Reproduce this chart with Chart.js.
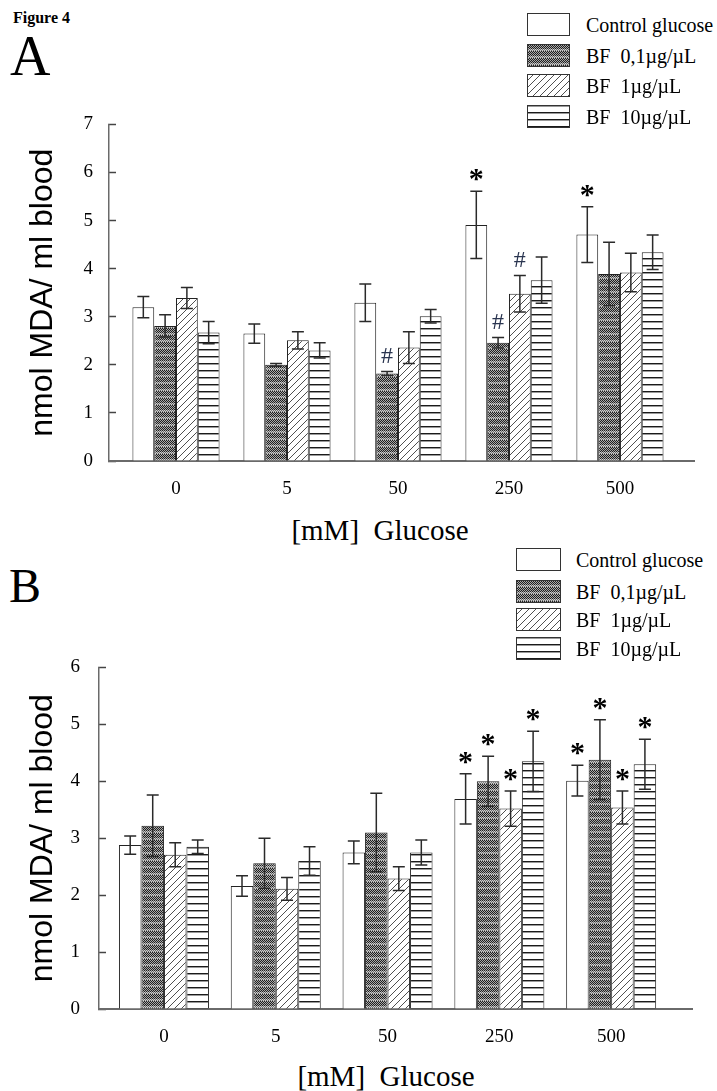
<!DOCTYPE html>
<html>
<head>
<meta charset="utf-8">
<script src="https://cdn.jsdelivr.net/npm/chart.js@4.4.1/dist/chart.umd.min.js"></script>
<style>
  body { margin: 0; width: 717px; height: 1091px; background: #fff; position: relative; overflow: hidden;
         font-family: 'Liberation Serif', serif; color: #000; }
  .abs { position: absolute; white-space: pre; line-height: 1; }
  .fig { left: 13px; top: 10px; font-size: 16px; font-weight: bold; }
  .xtitle { font-size: 29px; transform: translateX(-50%); }
  .leg { font-size: 20px; }
  canvas { position: absolute; left: 0; }
</style>
</head>
<body>
<div class="abs fig">Figure 4</div>
<div class="abs" style="left:10px;top:28px;font-size:56px;">A</div>
<div class="abs" style="left:9px;top:562px;font-size:48px;">B</div>
<div class="abs xtitle" style="left:380px;top:516px;">[mM]  Glucose</div>
<div class="abs xtitle" style="left:386px;top:1062px;">[mM]  Glucose</div>
<canvas id="chartA" width="717" height="420" style="top:90px"></canvas>
<canvas id="chartB" width="717" height="420" style="top:630px"></canvas>
<script>
const glucose = ['0', '5', '50', '250', '500'];
const seriesNames = ['Control glucose', 'BF  0,1µg/µL', 'BF  1µg/µL', 'BF  10µg/µL'];

// painel A
const ctrlA = [3.20, 2.65, 3.29, 4.91, 4.71];
const bf01A = [2.81, 2.00, 1.82, 2.46, 3.89];
const bf1A = [3.39, 2.51, 2.36, 3.48, 3.92];
const bf10A = [2.67, 2.30, 3.01, 3.76, 4.34];
const ctrlErrA = [0.22, 0.20, 0.39, 0.70, 0.58];
const bf01ErrA = [0.23, 0.03, 0.04, 0.11, 0.66];
const bf1ErrA = [0.22, 0.18, 0.33, 0.38, 0.40];
const bf10ErrA = [0.23, 0.16, 0.14, 0.48, 0.36];
const ctrlMarksA = ['', '', '', '*', '*'];
const bf01MarksA = ['', '', '#', '#', ''];
const bf1MarksA = ['', '', '', '#', ''];
const bf10MarksA = ['', '', '', '', ''];

// painel B
const ctrlB = [2.88, 2.16, 2.75, 3.69, 4.01];
const bf01B = [3.22, 2.56, 3.10, 4.00, 4.38];
const bf1B = [2.71, 2.11, 2.29, 3.52, 3.54];
const bf10B = [2.85, 2.60, 2.75, 4.35, 4.30];
const ctrlErrB = [0.16, 0.18, 0.20, 0.44, 0.27];
const bf01ErrB = [0.54, 0.44, 0.69, 0.44, 0.70];
const bf1ErrB = [0.21, 0.20, 0.21, 0.31, 0.29];
const bf10ErrB = [0.12, 0.25, 0.22, 0.53, 0.44];
const ctrlMarksB = ['', '', '', '*', '*'];
const bf01MarksB = ['', '', '', '*', '*'];
const bf1MarksB = ['', '', '', '*', '*'];
const bf10MarksB = ['', '', '', '*', '*'];

// texturas das barras
function makePattern(kind) {
  const c = document.createElement('canvas');
  const g = c.getContext('2d');
  if (kind === 'dots') {
    c.width = 2; c.height = 7;
    for (let y = 0; y < 7; y++) {
      for (let x = 0; x < 2; x++) {
        const odd = (x + y) % 2 === 1;
        g.fillStyle = y >= 5 ? (odd ? '#d0d0d0' : '#6a6a6a') : (odd ? '#a8a8a8' : '#1e1e1e');
        g.fillRect(x, y, 1, 1);
      }
    }
  } else if (kind === 'diag') {
    c.width = 7; c.height = 7;
    g.fillStyle = '#fff'; g.fillRect(0, 0, 7, 7);
    g.fillStyle = '#505050';
    for (let i = 0; i < 7; i++) g.fillRect(i, 6 - i, 1, 1);
  } else {
    c.width = 4; c.height = 7;
    g.fillStyle = '#fff'; g.fillRect(0, 0, 4, 7);
    g.fillStyle = '#1a1a1a'; g.fillRect(0, 0, 4, 1);
    g.fillStyle = '#9a9a9a'; g.fillRect(0, 1, 4, 1);
  }
  return g.createPattern(c, 'repeat');
}
const fills = ['#ffffff', makePattern('dots'), makePattern('diag'), makePattern('lines')];

// barras de erro e marcas (* e #)
const errorBars = {
  id: 'errorBars',
  afterDatasetsDraw(chart) {
    const ctx = chart.ctx;
    const yScale = chart.scales.y;
    chart.data.datasets.forEach((ds, i) => {
      const meta = chart.getDatasetMeta(i);
      meta.data.forEach((bar, j) => {
        const v = ds.data[j].y;
        const top = yScale.getPixelForValue(v + ds.err[j]);
        const bot = yScale.getPixelForValue(v - ds.err[j]);
        ctx.save();
        ctx.strokeStyle = '#2a2a2a';
        ctx.lineWidth = 1.5;
        ctx.beginPath();
        ctx.moveTo(bar.x, top); ctx.lineTo(bar.x, bot);
        ctx.moveTo(bar.x - 6, top); ctx.lineTo(bar.x + 6, top);
        ctx.moveTo(bar.x - 6, bot); ctx.lineTo(bar.x + 6, bot);
        ctx.stroke();
        const mark = ds.marks[j];
        if (mark) {
          ctx.font = mark === '*' ? 'bold 30px "Liberation Serif"' : '24px "Liberation Serif"';
          ctx.fillStyle = mark === '*' ? '#000' : '#2a3550';
          ctx.textAlign = 'center';
          ctx.textBaseline = 'alphabetic';
          const m = ctx.measureText(mark);
          const cy = top - 16;
          ctx.fillText(mark, bar.x, cy + (m.actualBoundingBoxAscent - m.actualBoundingBoxDescent) / 2);
        }
        ctx.restore();
      });
    });
  }
};

function buildDatasets(values, errors, marks) {
  return values.map((vals, k) => ({
    label: seriesNames[k],
    data: vals.map((v, i) => ({ x: i, y: v })),
    err: errors[k],
    marks: marks[k],
    backgroundColor: fills[k],
    borderColor: '#222',
    borderWidth: 1,
  }));
}

const tickFont = { family: 'Liberation Serif', size: 19 };

function drawPanel(id, datasets, opts) {
  new Chart(document.getElementById(id), {
    type: 'bar',
    data: { datasets },
    options: {
      responsive: false,
      animation: false,
      layout: { autoPadding: false, padding: opts.padding },
      plugins: { legend: { display: false }, tooltip: { enabled: false } },
      datasets: { bar: { categoryPercentage: opts.catPct, barPercentage: 1 } },
      scales: {
        x: {
          type: 'linear',
          min: opts.xMin,
          max: opts.xMax,
          offset: false,
          afterBuildTicks: (s) => { s.ticks = glucose.map((_, i) => ({ value: i })); },
          afterFit: (s) => { s.height = 40; },
          ticks: { callback: (v) => glucose[v], font: tickFont, color: '#000', padding: 17, maxRotation: 0, autoSkip: false },
          grid: { drawOnChartArea: false, drawTicks: false },
          border: { color: '#6a6a6a', width: 2 },
        },
        y: {
          min: 0,
          max: opts.yMax,
          afterFit: (s) => { s.width = opts.yWidth; },
          ticks: { stepSize: 1, font: tickFont, color: '#000', padding: opts.tickPad },
          grid: { drawOnChartArea: false, tickLength: -7, tickColor: '#444', tickWidth: 1.5 },
          border: { color: '#6a6a6a', width: 1.5 },
          title: {
            display: true,
            text: 'nmol MDA/ ml blood',
            color: '#000',
            font: { family: 'Liberation Sans', size: 32 },
            padding: { top: 24, bottom: 0 },
          },
        },
      },
    },
    plugins: [errorBars],
  });
}

function drawLegend(boxLeft, boxTops, boxW, textLeft) {
  seriesNames.forEach((name, k) => {
    const sw = document.createElement('canvas');
    sw.width = boxW; sw.height = 23;
    sw.style.left = boxLeft + 'px';
    sw.style.top = boxTops[k] + 'px';
    const g = sw.getContext('2d');
    g.fillStyle = fills[k];
    g.fillRect(0, 0, boxW, 23);
    g.strokeStyle = '#333';
    g.lineWidth = 1;
    g.strokeRect(0.5, 0.5, boxW - 1, 22);
    document.body.appendChild(sw);
    const t = document.createElement('div');
    t.className = 'abs leg';
    t.textContent = name;
    t.style.left = textLeft + 'px';
    t.style.top = (boxTops[k] + 1.5) + 'px';
    document.body.appendChild(t);
  });
}

drawPanel('chartA',
  buildDatasets([ctrlA, bf01A, bf1A, bf10A], [ctrlErrA, bf01ErrA, bf1ErrA, bf10ErrA],
                [ctrlMarksA, bf01MarksA, bf1MarksA, bf10MarksA]),
  { xMin: -0.6036, xMax: 4.667, yMax: 7, yWidth: 109, tickPad: 23, catPct: 0.785,
    padding: { top: 17, right: 23, bottom: 9, left: 0 } });

drawPanel('chartB',
  buildDatasets([ctrlB, bf01B, bf1B, bf10B], [ctrlErrB, bf01ErrB, bf1ErrB, bf10ErrB],
                [ctrlMarksB, bf01MarksB, bf1MarksB, bf10MarksB]),
  { xMin: -0.581, xMax: 4.723, yMax: 6, yWidth: 99, tickPad: 26, catPct: 0.805,
    padding: { top: 23, right: 25, bottom: 1, left: 0 } });

drawLegend(527, [13, 44, 74, 105], 43, 586);
drawLegend(516, [548, 580, 608, 637], 45, 576);
</script>
</body>
</html>
